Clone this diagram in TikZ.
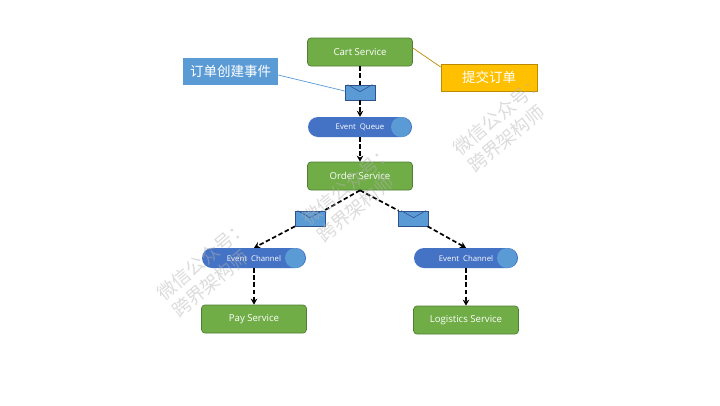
\documentclass[tikz,border=0pt]{standalone}
\usepackage{fontspec}
\setmainfont{Open Sans}
\newfontfamily\cjk{Noto Sans CJK SC}
\usetikzlibrary{arrows.meta,calc}
\definecolor{svcgreen}{HTML}{70AD47}
\definecolor{svcedge}{HTML}{507E32}
\definecolor{pillblue}{HTML}{4472C4}
\definecolor{lightblue}{HTML}{5B9BD5}
\definecolor{gold}{HTML}{FFC000}
\definecolor{goldedge}{HTML}{BC8C00}
\definecolor{envedge}{HTML}{2F528F}
\tikzset{
  x=1pt,y=-1pt,
  service/.style={draw=svcedge,line width=0.7pt,fill=svcgreen,rounded corners=3.5pt,minimum width=105pt,minimum height=28pt,inner sep=0pt,text=white,font=\fontsize{9.6}{11}\selectfont},
  pillnode/.style={fill=pillblue,rounded corners=10pt,minimum width=104pt,minimum height=20pt,inner sep=0pt},
  knob/.style={circle,fill=lightblue,minimum size=20pt,inner sep=0pt},
  pilllabel/.style={text=white,inner sep=0pt,font=\fontsize{7.8}{9}\selectfont},
  envelope/.style={draw=envedge,line width=0.7pt,fill=lightblue,minimum width=30pt,minimum height=15pt,inner sep=0pt},
  flow/.style={draw=black,line width=1.7pt,dash pattern=on 4.5pt off 2.6pt,-{Stealth[length=6pt,width=6.5pt]}},
  flowplain/.style={draw=black,line width=1.7pt,dash pattern=on 4.5pt off 2.6pt},
  callout/.style={fill=lightblue,minimum width=95pt,minimum height=27pt,inner sep=0pt,text=white,font=\cjk\fontsize{13.5}{16}\selectfont},
  calloutgold/.style={draw=goldedge,line width=0.7pt,fill=gold,minimum width=96pt,minimum height=27pt,inner sep=0pt,text=white,font=\cjk\fontsize{13.5}{16}\selectfont},
  watermark/.style={rotate=40,align=left,text=black!30,opacity=0.45,font=\cjk\fontsize{18.5}{23}\selectfont}
}
\newcommand{\flapmark}[1]{\draw[envedge,line width=0.6pt] ($(#1.north west)+(3,0)$) -- ($(#1.north)+(0,7)$) -- ($(#1.north east)+(-3,0)$);}
\begin{document}
\begin{tikzpicture}
\useasboundingbox (0,0) rectangle (720,405);
\fill[white] (0,0) rectangle (720,405);
\node[service] (cart) at (360,52) {\raisebox{-0.6pt}{Cart Service}};
\node[service] (order) at (360,176) {\raisebox{-0.6pt}{Order Service}};
\node[service] (pay) at (254,319) {\raisebox{-0.6pt}{Pay Service}};
\node[service] (logi) at (466,320) {\raisebox{-0.6pt}{Logistics Service}};
\node[pillnode] (queue) at (360,127) {};
\node[knob] (qk) at (401,127) {};
\node[pillnode] (chl) at (254,258) {};
\node[knob] (chlk) at (295,258) {};
\node[pillnode] (chr) at (466,258) {};
\node[knob] (chrk) at (507,258) {};
\node[pilllabel] (ql) at (360,127.5) {Event\ \ Queue};
\node[pilllabel] (cll) at (254,258.5) {Event\ \ Channel};
\node[pilllabel] (crl) at (466,258.5) {Event\ \ Channel};
\node[envelope] (e1) at (360,92.5) {};
\node[envelope] (e2) at (310,218.5) {};
\node[envelope] (e3) at (413.5,218.5) {};
\draw[flowplain] (cart) -- (e1);
\draw[flow] (e1) -- (queue);
\draw[flow] (queue) -- (order);
\draw[flowplain] (order.south) -- (e2);
\draw[flow] (e2) -- (chl.north);
\draw[flowplain] (order.south) -- (e3);
\draw[flow] (e3) -- (chr.north);
\draw[flow] (chl) -- (pay);
\draw[flow] (chr) -- (logi);
\flapmark{e1}
\flapmark{e2}
\flapmark{e3}
\node[callout] (c1) at (230.5,71.5) {订单创建事件};
\node[calloutgold] (c2) at (489,77.5) {提交订单};
\draw[lightblue,line width=0.7pt] (c1.east|-0,75) -- (e1.west|-0,91);
\draw[goldedge,line width=0.7pt] (cart.east|-0,48) -- (c2.west|-0,67);
\node[watermark] (w1) at (506,124) {微信公众号：\\跨界架构师};
\node[watermark] (w2) at (355,194) {微信公众号：\\跨界架构师};
\node[watermark] (w3) at (210,269) {微信公众号：\\跨界架构师};
\end{tikzpicture}
\end{document}
